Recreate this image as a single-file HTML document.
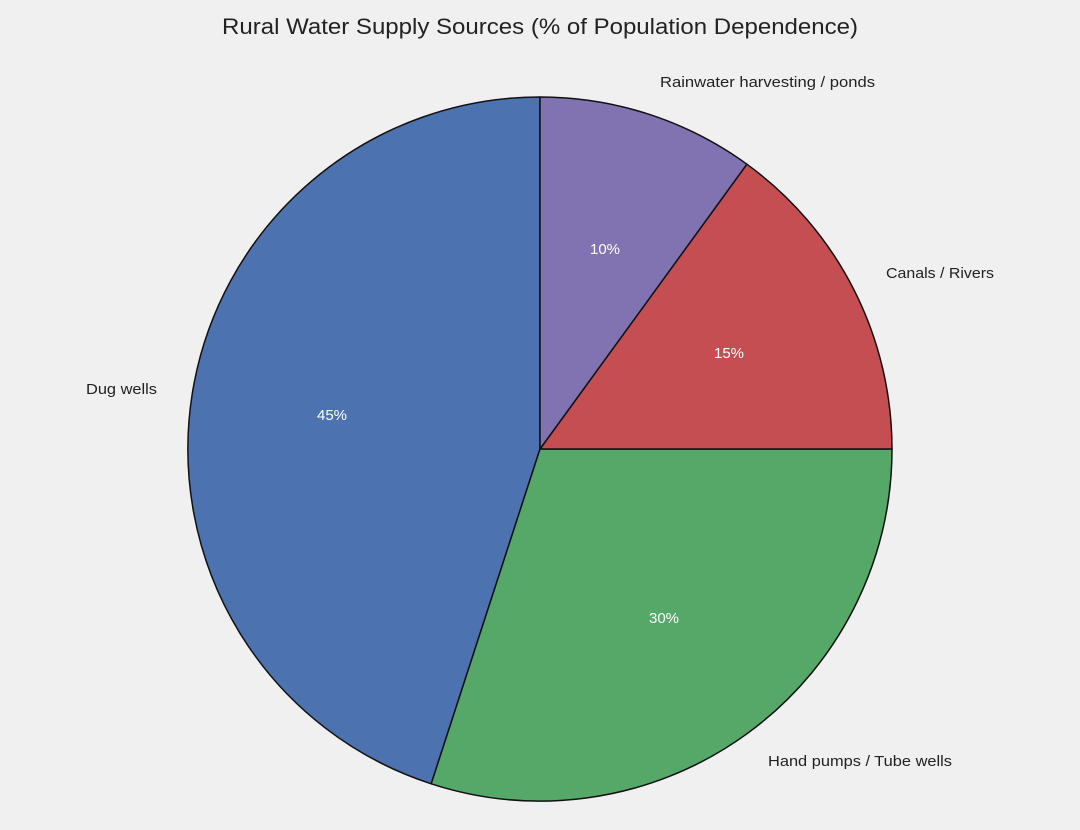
<!DOCTYPE html>
<html><head><meta charset="utf-8"><style>
html,body{margin:0;padding:0;background:#f0f0f0;}
svg{display:block;font-family:"Liberation Sans","DejaVu Sans",sans-serif;}
</style></head><body>
<svg width="1080" height="830" viewBox="0 0 1080 830" xmlns="http://www.w3.org/2000/svg">
<rect width="1080" height="830" fill="#f0f0f0"/>
<text x="222" y="34" font-size="22" fill="#222" textLength="636" lengthAdjust="spacingAndGlyphs">Rural Water Supply Sources (% of Population Dependence)</text>
<g stroke="#111" stroke-width="1.5" stroke-linejoin="round">
<path d="M540,449 L540,97 A352,352 0 0 0 431.2,783.8 Z" fill="#4c72b0"/>
<path d="M540,449 L431.2,783.8 A352,352 0 0 0 892,449 Z" fill="#55a868"/>
<path d="M540,449 L892,449 A352,352 0 0 0 746.9,164.2 Z" fill="#c44e52"/>
<path d="M540,449 L746.9,164.2 A352,352 0 0 0 540,97 Z" fill="#8172b2"/>
</g>
<g font-size="15" fill="#ffffff" text-anchor="middle">
<text x="332" y="420">45%</text>
<text x="664" y="623">30%</text>
<text x="729" y="358">15%</text>
<text x="605" y="254">10%</text>
</g>
<g font-size="15" fill="#222" lengthAdjust="spacingAndGlyphs">
<text x="86" y="394" textLength="71" lengthAdjust="spacingAndGlyphs">Dug wells</text>
<text x="768" y="766" textLength="184" lengthAdjust="spacingAndGlyphs">Hand pumps / Tube wells</text>
<text x="886" y="278" textLength="108" lengthAdjust="spacingAndGlyphs">Canals / Rivers</text>
<text x="660" y="87" textLength="215" lengthAdjust="spacingAndGlyphs">Rainwater harvesting / ponds</text>
</g>
</svg>
</body></html>
